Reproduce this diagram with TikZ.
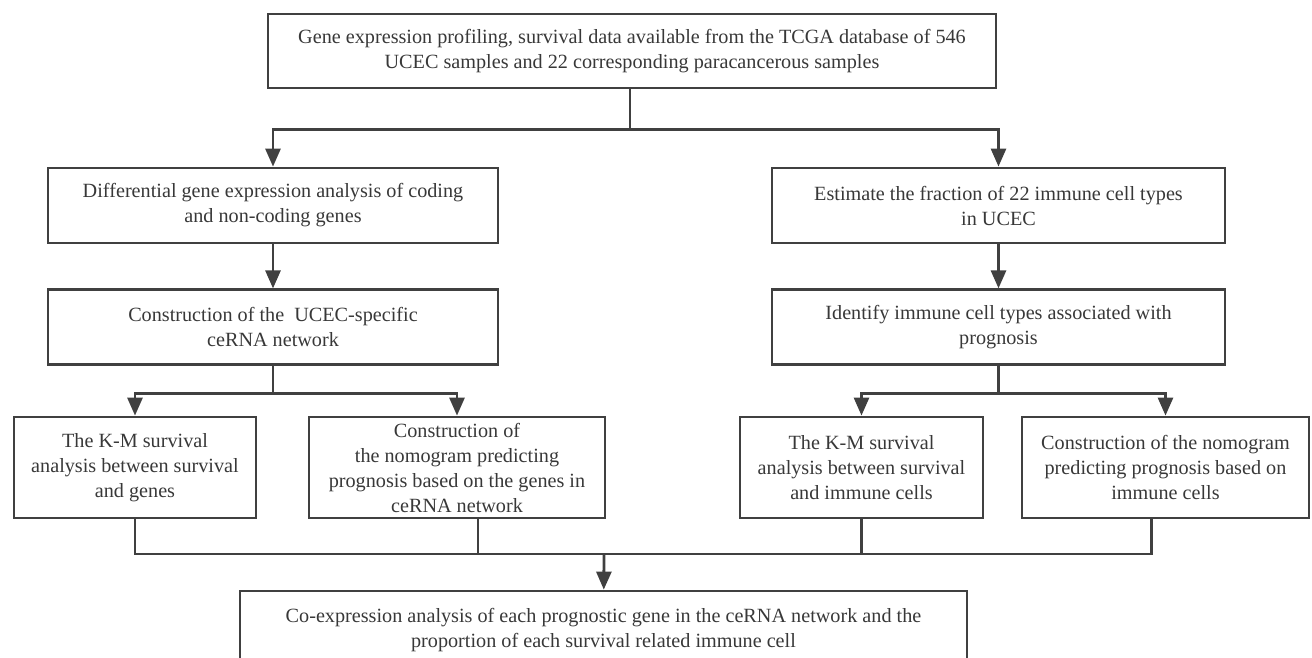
\documentclass[tikz,border=0pt]{standalone}
\usepackage{fontspec}
\setmainfont{Liberation Serif}
\usepackage{xcolor}
\usepackage{tikz}
\usetikzlibrary{arrows.meta, positioning, calc}
\definecolor{linegray}{HTML}{404040}
\definecolor{textgray}{HTML}{383838}
\tikzset{
  stepbox/.style={rectangle, draw=linegray, line width=2.8pt, text=textgray, align=center, inner sep=2pt, font=\fontsize{20.2}{25}\selectfont},
  link/.style={draw=linegray, line width=2.8pt},
  arrow/.style={-{Triangle[length=18pt,width=15pt]}, draw=linegray, line width=2.8pt},
}

\begin{document}
\begin{tikzpicture}[x=1pt, y=-1pt]
\useasboundingbox (0,0) rectangle (1312,658);
\node[stepbox, minimum width=728pt, minimum height=74pt] (top) at (632,51) {Gene expression profiling, survival data available from the TCGA database of 546\\UCEC samples and 22 corresponding paracancerous samples};
\node[stepbox, minimum width=450pt, minimum height=75pt] (diff) at (273,205.5) {Differential gene expression analysis of coding\\and non-coding genes};
\node[stepbox, minimum width=450pt, minimum height=75pt, below=44pt of diff] (cerna) {Construction of the\ \ UCEC-specific\\ceRNA network};
\node[stepbox, minimum width=453pt, minimum height=75pt] (est) at (998.5,205.5) {Estimate the fraction of 22 immune cell types\\in UCEC};
\node[stepbox, minimum width=453pt, minimum height=75pt, below=44pt of est] (ident) {Identify immune cell types associated with\\prognosis};
\node[stepbox, minimum width=242pt, minimum height=101pt] (kmg) at (135,467.5) {The K-M survival\\analysis between survival\\and genes};
\node[stepbox, minimum width=296pt, minimum height=101pt] (nomg) at (457,467.5) {Construction of\\the nomogram predicting\\prognosis based on the genes in\\ceRNA network};
\node[stepbox, minimum width=243pt, minimum height=101pt] (kmi) at (861.5,467.5) {The K-M survival\\analysis between survival\\and immune cells};
\node[stepbox, minimum width=287pt, minimum height=101pt] (nomi) at (1165.5,467.5) {Construction of the nomogram\\predicting prognosis based on\\immune cells};
\node[stepbox, minimum width=727pt, minimum height=78pt] (coexp) at (603.5,630) {Co-expression analysis of each prognostic gene in the ceRNA network and the\\proportion of each survival related immune cell};
% top split
\draw[link] ([xshift=-2pt]top.south) -- ++(0,40) coordinate (sp0);
\draw[arrow] (sp0) -| (diff);
\draw[arrow] (sp0) -| (est);
\draw[arrow] (diff) -- (cerna);
\draw[arrow] (est) -- (ident);
% second level splits
\draw[link] (cerna.south) -- ++(0,27) coordinate (sp1);
\draw[arrow] (sp1) -| (kmg);
\draw[arrow] (sp1) -| (nomg);
\draw[link] (ident.south) -- ++(0,27) coordinate (sp2);
\draw[arrow] (sp2) -| (kmi);
\draw[arrow] (sp2) -| (nomi);
% merge
\coordinate (mg) at (604,554);
\draw[link] (kmg.south) |- (mg) -| ([xshift=-14pt]nomi.south);
\draw[link] ([xshift=21pt]nomg.south) |- (mg);
\draw[link] (kmi.south) |- (mg);
\draw[arrow] (mg) -- (coexp);
\end{tikzpicture}
\end{document}
